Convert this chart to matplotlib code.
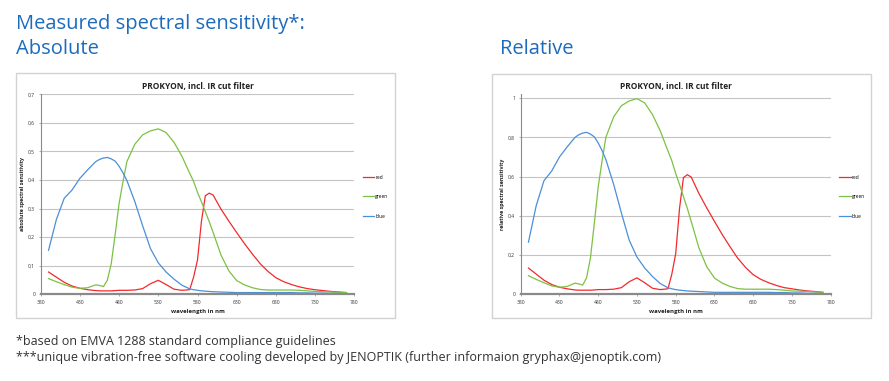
import numpy as np
import matplotlib.pyplot as plt
from matplotlib.patches import Rectangle
from matplotlib.ticker import FuncFormatter

W, H = 889, 381

# wavelength grid in nm
wavelength = [390, 400, 410, 420, 430, 440, 450, 455, 460, 465, 470, 475, 480, 485,
              490, 500, 510, 520, 530, 540, 550, 560, 570, 575, 580, 585, 590, 595,
              600, 610, 620, 630, 640, 650, 660, 670, 680, 690, 700, 710, 720, 730,
              740, 750, 760, 770]

# absolute spectral sensitivity
abs_red = [0.078, 0.060, 0.042, 0.029, 0.021, 0.016, 0.013, 0.012, 0.012, 0.012, 0.012, 0.013,
           0.014, 0.014, 0.014, 0.015, 0.020, 0.037, 0.049, 0.034, 0.018, 0.014, 0.016, 0.060,
           0.120, 0.255, 0.345, 0.354, 0.347, 0.298, 0.256, 0.216, 0.177, 0.141, 0.107, 0.080,
           0.058, 0.044, 0.034, 0.026, 0.020, 0.016, 0.013, 0.010, 0.008, 0.006]
abs_green = [0.055, 0.044, 0.034, 0.025, 0.021, 0.023, 0.033, 0.031, 0.027, 0.049, 0.108, 0.210,
             0.318, 0.395, 0.465, 0.525, 0.558, 0.572, 0.579, 0.566, 0.532, 0.484, 0.424, 0.395,
             0.357, 0.324, 0.289, 0.254, 0.216, 0.137, 0.082, 0.048, 0.033, 0.023, 0.017, 0.015,
             0.015, 0.015, 0.015, 0.014, 0.012, 0.010, 0.009, 0.008, 0.007, 0.006]
abs_blue = [0.154, 0.262, 0.336, 0.365, 0.406, 0.436, 0.464, 0.472, 0.477, 0.479, 0.474, 0.466,
            0.448, 0.425, 0.398, 0.325, 0.240, 0.160, 0.110, 0.078, 0.053, 0.032, 0.019, 0.016,
            0.014, 0.012, 0.011, 0.010, 0.009, 0.008, 0.007, 0.006, 0.006, 0.006, 0.006, 0.006,
            0.006, 0.006, 0.006, 0.005, 0.005, 0.004, 0.004, 0.003, 0.003, 0.002]

# relative spectral sensitivity
rel_red = [0.134, 0.103, 0.072, 0.050, 0.036, 0.028, 0.022, 0.021, 0.021, 0.021, 0.021, 0.022,
           0.024, 0.024, 0.024, 0.026, 0.034, 0.064, 0.084, 0.059, 0.031, 0.024, 0.028, 0.103,
           0.207, 0.440, 0.595, 0.610, 0.598, 0.514, 0.441, 0.372, 0.305, 0.243, 0.184, 0.138,
           0.100, 0.076, 0.059, 0.045, 0.034, 0.028, 0.022, 0.017, 0.014, 0.010]
rel_green = [0.095, 0.076, 0.059, 0.043, 0.036, 0.040, 0.057, 0.053, 0.047, 0.084, 0.186, 0.362,
             0.548, 0.681, 0.802, 0.905, 0.962, 0.986, 0.998, 0.976, 0.917, 0.834, 0.731, 0.681,
             0.616, 0.559, 0.498, 0.438, 0.372, 0.236, 0.141, 0.083, 0.057, 0.040, 0.029, 0.026,
             0.026, 0.026, 0.026, 0.024, 0.021, 0.017, 0.016, 0.014, 0.012, 0.010]
rel_blue = [0.266, 0.452, 0.579, 0.629, 0.700, 0.752, 0.800, 0.814, 0.822, 0.826, 0.817, 0.803,
            0.772, 0.733, 0.686, 0.560, 0.414, 0.276, 0.190, 0.134, 0.091, 0.055, 0.033, 0.028,
            0.024, 0.021, 0.019, 0.017, 0.016, 0.014, 0.012, 0.010, 0.010, 0.010, 0.010, 0.010,
            0.010, 0.010, 0.010, 0.009, 0.009, 0.007, 0.007, 0.005, 0.005, 0.003]

series_names = ["red", "green", "blue"]
series_colors = ["#f2292e", "#7cc144", "#4a8fd8"]

chart_title = "PROKYON, incl. IR cut filter"
x_ticks = [380, 430, 480, 530, 580, 630, 680, 730, 780]

HEAD = "#1c6bbd"


def fx(px):
    return px / W


def fy(py):
    return 1 - py / H


def comma_fmt(v, pos):
    if abs(v) < 1e-9:
        return "0"
    if abs(v - round(v)) < 1e-9:
        return "%d" % round(v)
    return ("%.1f" % v).replace(".", ",")


def draw_chart(fig, rect, data, yticks, ymax, ylabel):
    ax = fig.add_axes(rect)
    for vals, name, col in zip(data, series_names, series_colors):
        ax.plot(wavelength, vals, color=col, lw=0.9, label=name)
    ax.set_xlim(380, 780)
    ax.set_ylim(0, ymax)
    ax.set_xticks(x_ticks)
    ax.set_yticks(yticks)
    ax.yaxis.set_major_formatter(FuncFormatter(comma_fmt))
    ax.grid(axis="y", color="#c4c4c4", lw=0.8)
    ax.set_axisbelow(True)
    for s in ["top", "right"]:
        ax.spines[s].set_visible(False)
    ax.spines["left"].set_color("#8a8a8a")
    ax.spines["left"].set_linewidth(0.8)
    ax.spines["bottom"].set_color("#8a8a8a")
    ax.spines["bottom"].set_linewidth(1.6)
    ax.tick_params(labelsize=3.6, length=1.5, width=0.5, color="#8a8a8a",
                   pad=2.5, labelcolor="#333333")
    ax.set_xlabel("wavelength in nm", fontsize=4.3, fontweight="bold", labelpad=3,
                  color="#222222")
    ax.set_ylabel(ylabel, fontsize=3.8, fontweight="bold", labelpad=2, color="#222222")
    ax.set_title(chart_title, fontsize=6, fontweight="bold", pad=4, color="#222222")
    ax.legend(loc="center left", bbox_to_anchor=(1.027, 0.488), frameon=False,
              fontsize=3.5, handlelength=2.4, handletextpad=0.15, labelspacing=3.0,
              borderpad=0, borderaxespad=0)
    return ax


fig = plt.figure(figsize=(W / 100, H / 100), dpi=100)
plt.rcParams["font.family"] = ["Open Sans", "DejaVu Sans"]

# chart frames
for x0, y0, x1, y1 in [(16, 73, 395, 318), (492, 74, 871, 318)]:
    fig.add_artist(Rectangle((fx(x0), fy(y1)), fx(x1 - x0), (y1 - y0) / H,
                             transform=fig.transFigure, fill=False,
                             edgecolor="#d2d2d2", lw=1.0))

draw_chart(fig, [fx(40.7), fy(294.3), fx(313.6), 200 / H],
           [abs_red, abs_green, abs_blue], np.arange(0, 0.71, 0.1), 0.7,
           "absolute spectral sensitivity")
draw_chart(fig, [fx(520.7), fy(294.3), fx(310), 200 / H],
           [rel_red, rel_green, rel_blue], np.arange(0, 1.01, 0.2), 1.02,
           "relative spectral sensitivity")

fig.text(fx(16), fy(24), "Measured spectral sensitivity*:", fontsize=14.5, color=HEAD,
         va="center", ha="left")
fig.text(fx(16), fy(49), "Absolute", fontsize=14.5, color=HEAD, va="center", ha="left")
fig.text(fx(500), fy(49), "Relative", fontsize=14.5, color=HEAD, va="center", ha="left")

fig.text(fx(16), fy(341), "*based on EMVA 1288 standard compliance guidelines",
         fontsize=9.0, color="#333333", va="center", ha="left")
fig.text(fx(16), fy(357),
         "***unique vibration-free software cooling developed by JENOPTIK "
         "(further informaion gryphax@jenoptik.com)",
         fontsize=9.0, color="#333333", va="center", ha="left")

fig.savefig("out.png", dpi=100)
